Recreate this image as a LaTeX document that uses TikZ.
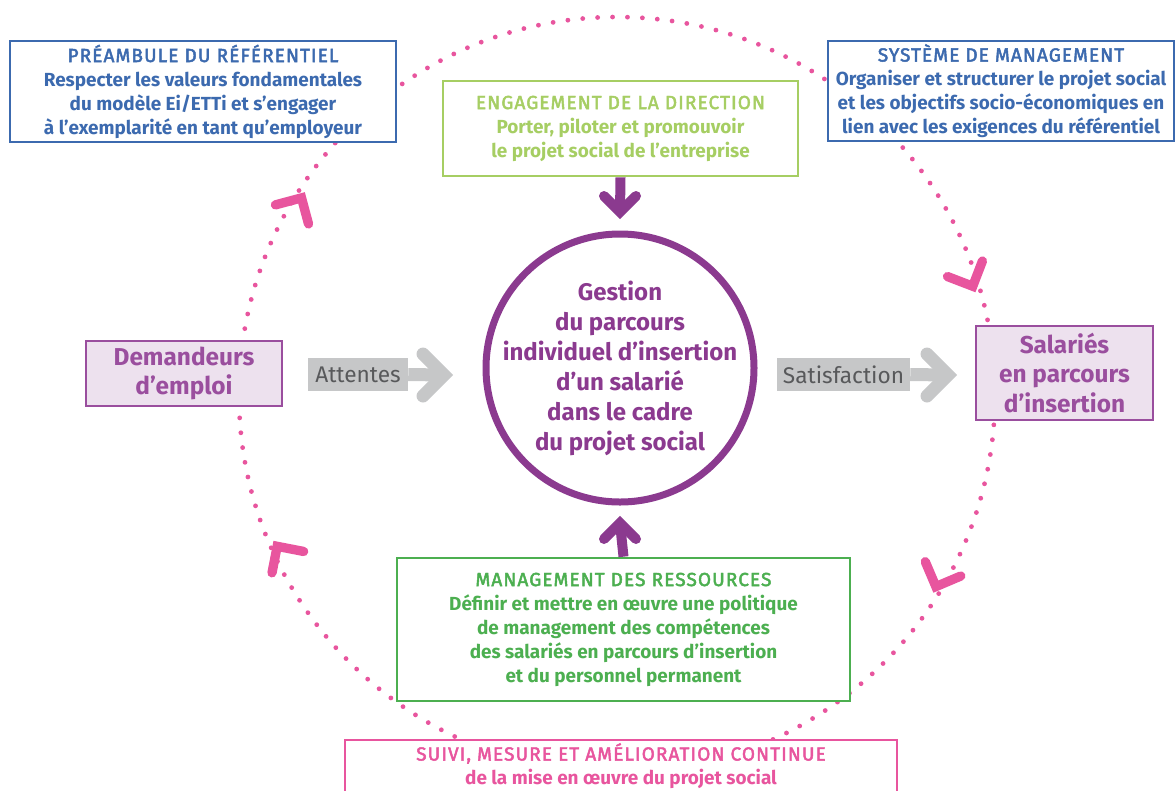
\documentclass[tikz,border=0pt]{standalone}
\usepackage{fontspec}
\setmainfont{Fira Sans}
\newfontfamily\headfont{Fira Sans}[FakeBold=2.5, LetterSpace=6]
\usetikzlibrary{positioning}

\definecolor{refblue}{HTML}{3C6AAF}
\definecolor{lightgreen}{HTML}{A6CE63}
\definecolor{midgreen}{HTML}{4CAF50}
\definecolor{circlepurple}{HTML}{8B3A8F}
\definecolor{boxpurple}{HTML}{9A4E9E}
\definecolor{lavender}{HTML}{EDE1EE}
\definecolor{refpink}{HTML}{E8559E}
\definecolor{arrowgrey}{HTML}{C6C7C8}
\definecolor{labelgrey}{HTML}{58595B}

\begin{document}
\begin{tikzpicture}[x=0.75pt, y=-0.75pt,
  textbox/.style={draw, fill=white, inner sep=0pt, align=center,
    font=\bfseries\fontsize{14.2}{18}\selectfont},
  bluebox/.style={textbox, draw=refblue, text=refblue, line width=1.6pt},
  greyfield/.style={fill=arrowgrey, text=labelgrey, inner sep=0pt,
    minimum height=24.75pt, font=\fontsize{17}{18}\selectfont},
  personbox/.style={draw=boxpurple, fill=lavender, text=boxpurple, line width=1.8pt,
    inner sep=0pt, align=center, font=\bfseries\fontsize{18.3}{21.9}\selectfont},
  greyshaft/.style={arrowgrey, line width=9.75pt},
  greyhead/.style={arrowgrey, line width=9.75pt, line cap=round, line join=miter},
  purpleshaft/.style={circlepurple, line width=7.5pt},
  purplehead/.style={circlepurple, line width=7.5pt, line cap=round, line join=miter},
  pinkhead/.style={refpink, line width=7pt, line cap=round, line join=miter}]

\useasboundingbox (0,0) rectangle (1175,790);
\clip (0,0) rectangle (1175,790);

% dotted loop and its chevrons
\draw[refpink, line width=3.6pt, line cap=round, dash pattern=on 0pt off 11.2pt]
  (617,395) circle (378);
\begin{scope}[shift={(617,395)}]
\foreach \a/\d in {212/300, 343/66, 31/112, 156/236}
  \draw[pinkhead] (\a:372) ++(\d+135:27) -- (\a:372) -- ++(\d-135:27);
\end{scope}

% boxes
\node[bluebox, minimum width=289.5pt, minimum height=75.75pt] (preamble) at (203,91.5)
  {{\headfont\mdseries PRÉAMBULE DU RÉFÉRENTIEL}\\
   Respecter les valeurs fondamentales\\
   du modèle Ei/ETTi et s’engager\\
   à l’exemplarité en tant qu’employeur};
\node[bluebox, minimum width=259.5pt, minimum height=75pt] (system) at (1001,91)
  {{\headfont\mdseries SYSTÈME DE MANAGEMENT}\\
   Organiser et structurer le projet social\\
   et les objectifs socio-économiques en\\
   lien avec les exigences du référentiel};
\node[textbox, draw=lightgreen, text=lightgreen, line width=2pt,
  minimum width=266.25pt, minimum height=71.25pt] (engage) at (620.5,128.5)
  {{\headfont\mdseries ENGAGEMENT DE LA DIRECTION}\\
   Porter, piloter et promouvoir\\
   le projet social de l’entreprise};
\node[textbox, draw=midgreen, text=midgreen, line width=2pt,
  minimum width=339.75pt, minimum height=107.25pt] (resources) at (623.5,629.5)
  {{\headfont\mdseries MANAGEMENT DES RESSOURCES}\\
   Définir et mettre en œuvre une politique\\
   de management des compétences\\
   des salariés en parcours d’insertion\\
   et du personnel permanent};
\node[textbox, draw=refpink, text=refpink, line width=1.8pt,
  minimum width=414pt, minimum height=39pt] (followup) at (621,766)
  {{\headfont\mdseries SUIVI, MESURE ET AMÉLIORATION CONTINUE}\\
   de la mise en œuvre du projet social};

% centre
\node[circle, draw=circlepurple, fill=white, line width=5.25pt, minimum size=201pt]
  (pathway) at (620,368) {};
\node[text=circlepurple, align=center, font=\bfseries\fontsize{18}{22.5}\selectfont]
  (pathwaytext) at (pathway) {Gestion\\ du parcours\\ individuel d’insertion\\ d’un salarié\\
   dans le cadre\\ du projet social};

\node[personbox, minimum width=147pt, minimum height=48.75pt] (seekers) at (184,373.5)
  {Demandeurs\\ d’emploi};
\node[personbox, minimum width=132.75pt, minimum height=70.5pt] (employees) at (1064.5,373)
  {Salariés\\ en parcours\\ d’insertion};

\node[greyfield, minimum width=75pt] (expect) at (358,374.5) {Attentes};
\node[greyfield, minimum width=99.75pt] (satisf) at (843.5,374.5) {Satisfaction};

% arrows
\coordinate (expectTip) at (444,375);
\coordinate (satisfTip) at (948,375);
\coordinate (topTip) at (620,212);
\coordinate (bottomTip) at (620,523);

\draw[greyshaft] (expect.east) -- (expectTip);
\draw[greyhead] (expectTip) ++(-21,-21) -- (expectTip) -- ++(-21,21);
\draw[greyshaft] (satisf.east) -- (satisfTip);
\draw[greyhead] (satisfTip) ++(-21,-21) -- (satisfTip) -- ++(-21,21);

\draw[purpleshaft] (engage.south) -- (topTip);
\draw[purplehead] (topTip) ++(-16,-16) -- (topTip) -- ++(16,-16);
\draw[purpleshaft] (resources.north) -- (bottomTip);
\draw[purplehead] (bottomTip) ++(-16,16) -- (bottomTip) -- ++(16,16);
\end{tikzpicture}
\end{document}
